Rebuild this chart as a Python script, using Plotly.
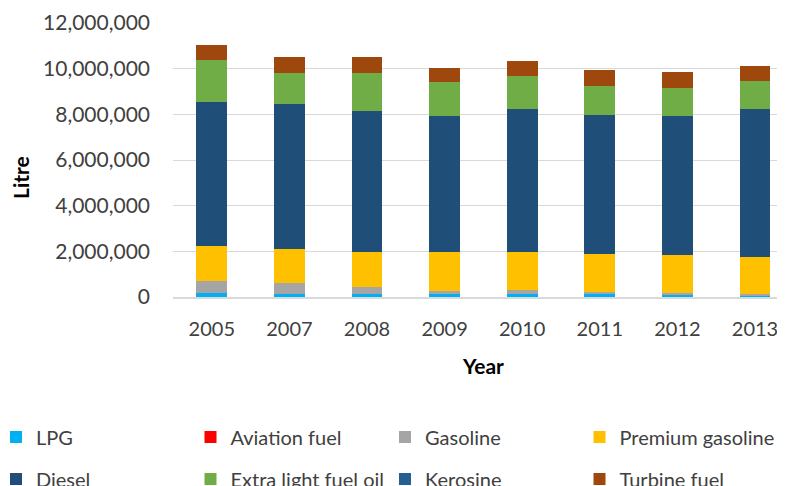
import plotly.graph_objects as go

years = ["2005", "2007", "2008", "2009", "2010", "2011", "2012", "2013"]

lpg = [176000, 132000, 132000, 132000, 132000, 132000, 88000, 75000]
aviation_fuel = [0, 0, 0, 0, 0, 0, 0, 0]
gasoline = [528000, 485000, 308000, 132000, 176000, 75000, 88000, 75000]
premium_gasoline = [1526000, 1493000, 1540000, 1716000, 1672000, 1673000, 1664000, 1600000]
diesel = [6290000, 6330000, 6170000, 5950000, 6240000, 6090000, 6090000, 6470000]
extra_light_fuel_oil = [1860000, 1360000, 1650000, 1480000, 1460000, 1270000, 1230000, 1240000]
kerosine = [0, 0, 0, 0, 0, 0, 0, 0]
turbine_fuel = [660000, 720000, 720000, 630000, 670000, 720000, 690000, 660000]

series = [
    ("LPG", lpg, "#00B0F0", "legend"),
    ("Aviation fuel", aviation_fuel, "#FF0000", "legend"),
    ("Gasoline", gasoline, "#A5A5A5", "legend"),
    ("Premium gasoline", premium_gasoline, "#FFC000", "legend"),
    ("Diesel", diesel, "#1F4E79", "legend2"),
    ("Extra light fuel oil", extra_light_fuel_oil, "#70AD47", "legend2"),
    ("Kerosine", kerosine, "#255E91", "legend2"),
    ("Turbine fuel", turbine_fuel, "#9E480E", "legend2"),
]

FONT = "Lato"
fig = go.Figure()
for name, vals, color, lg in series:
    fig.add_trace(go.Bar(x=years, y=vals, name=name, marker=dict(color=color, line=dict(width=0)),
                         legend=lg))

# page has an 8px body margin, so the figure is drawn at (8, 8) in the window
OFF = 8
W, H = 785 - OFF, 486 - OFF
L, R, T, B = 173 - OFF, 0, 23 - OFF, 486 - 297
pw, ph = W - L - R, H - T - B
PITCH = 77.6  # px per category
x_end = -0.5 + pw / PITCH

def sx(p):
    return (p - OFF - L) / pw

def sy(p):
    return (H - B - (p - OFF)) / ph

legend_common = dict(orientation="h", xanchor="left", yanchor="middle",
                     font=dict(family=FONT, size=20, color="#404040"),
                     entrywidth=149.5, entrywidthmode="pixels", bgcolor="rgba(0,0,0,0)",
                     traceorder="normal", itemclick=False)

fig.update_layout(
    width=W, height=H,
    margin=dict(l=L, r=R, t=T, b=B, autoexpand=False),
    paper_bgcolor="white", plot_bgcolor="white",
    barmode="stack", bargap=0.604,
    font=dict(family=FONT, size=20, color="#404040"),
    legend=dict(x=sx(-4), y=sy(437), **legend_common),
    legend2=dict(x=sx(-4), y=sy(479), **legend_common),
    xaxis=dict(type="category", range=[-0.5, x_end], showgrid=False, automargin=False,
               showline=True, linecolor="#D9D9D9", linewidth=1.5,
               ticks="", ticklabelstandoff=13,
               tickfont=dict(family=FONT, size=20, color="#404040")),
    yaxis=dict(range=[0, 12000000], dtick=2000000, tickformat=",", automargin=False,
               showgrid=True, gridcolor="#D9D9D9", gridwidth=1,
               zeroline=False, showline=False, ticks="", ticklabelstandoff=22,
               tickfont=dict(family=FONT, size=21, color="#404040")),
    annotations=[
        dict(text="<b>Year</b>", xref="paper", yref="paper", x=sx(483), y=sy(365),
             xanchor="center", yanchor="middle", showarrow=False,
             font=dict(family=FONT, size=21, color="#000000")),
        dict(text="<b>Litre</b>", xref="paper", yref="paper", x=sx(20), y=sy(178),
             xanchor="center", yanchor="middle", showarrow=False, textangle=-90,
             font=dict(family=FONT, size=21, color="#000000")),
    ],
)

fig.write_html("out.html")
